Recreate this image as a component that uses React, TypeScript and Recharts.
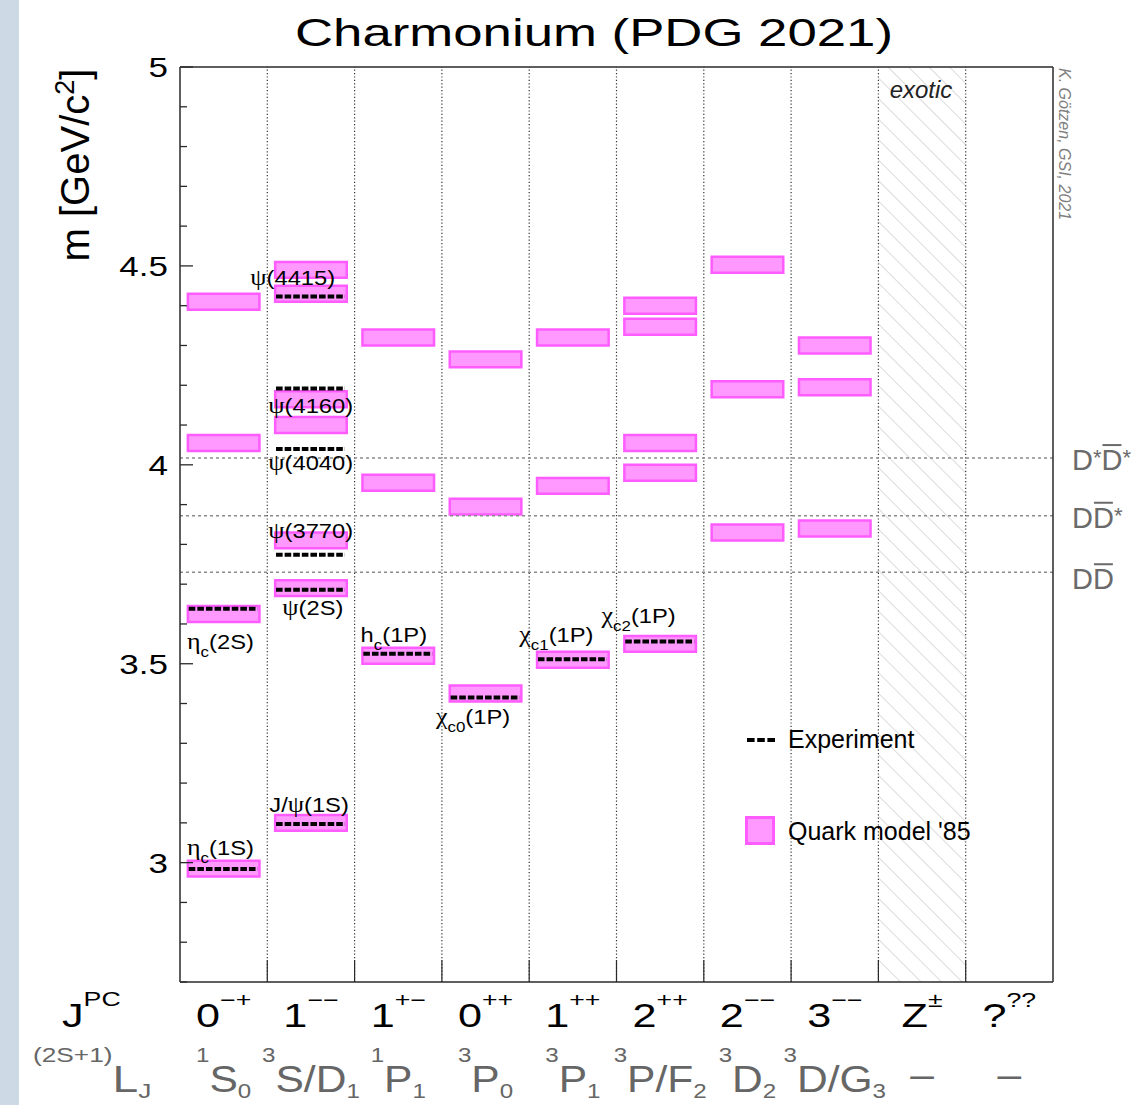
import React from 'react';
import { ComposedChart, XAxis, YAxis, ReferenceArea, ReferenceLine, ReferenceDot } from 'recharts';

const W = 1147;
const H = 1105;
const SANS = '"Liberation Sans", Arial, Helvetica, sans-serif';
const SERIF = '"Liberation Serif", "Times New Roman", serif';

// J^PC row and spectroscopic row, one entry per column
const JPC = [
  { n: '0', s: '−+' }, { n: '1', s: '−−' }, { n: '1', s: '+−' }, { n: '0', s: '++' }, { n: '1', s: '++' },
  { n: '2', s: '++' }, { n: '2', s: '−−' }, { n: '3', s: '−−' }, { n: 'Z', s: '±' }, { n: '?', s: '??' },
];
const TERMS = [
  { sup: '1', main: 'S', sub: '0' }, { sup: '3', main: 'S/D', sub: '1' }, { sup: '1', main: 'P', sub: '1' },
  { sup: '3', main: 'P', sub: '0' }, { sup: '3', main: 'P', sub: '1' }, { sup: '3', main: 'P/F', sub: '2' },
  { sup: '3', main: 'D', sub: '2' }, { sup: '3', main: 'D/G', sub: '3' }, { sup: '', main: '–', sub: '' },
  { sup: '', main: '–', sub: '' },
];

// Quark model '85 predictions per column [GeV]
const QM_0MP = [2.985, 3.625, 4.055, 4.41];
const QM_1MM = [3.1, 3.69, 3.81, 4.1, 4.165, 4.43, 4.49];
const QM_1PM = [3.52, 3.955, 4.32];
const QM_0PP = [3.425, 3.895, 4.265];
const QM_1PP = [3.51, 3.947, 4.32];
const QM_2PP = [3.55, 3.98, 4.055, 4.347, 4.4];
const QM_2MM = [3.83, 4.19, 4.503];
const QM_3MM = [3.84, 4.195, 4.3];
const QUARK_MODEL = [QM_0MP, QM_1MM, QM_1PM, QM_0PP, QM_1PP, QM_2PP, QM_2MM, QM_3MM];

// measured states
const EXPERIMENT = [
  { name: 'etac1S', col: 0, m: 2.984, greek: 'η', sub: 'c', tail: '(1S)' },
  { name: 'etac2S', col: 0, m: 3.638, greek: 'η', sub: 'c', tail: '(2S)' },
  { name: 'jpsi', col: 1, m: 3.097, pre: 'J/', greek: 'ψ', tail: '(1S)' },
  { name: 'psi2S', col: 1, m: 3.686, greek: 'ψ', tail: '(2S)' },
  { name: 'psi3770', col: 1, m: 3.774, greek: 'ψ', tail: '(3770)' },
  { name: 'psi4040', col: 1, m: 4.04, greek: 'ψ', tail: '(4040)' },
  { name: 'psi4160', col: 1, m: 4.192, greek: 'ψ', tail: '(4160)' },
  { name: 'psi4415', col: 1, m: 4.423, greek: 'ψ', tail: '(4415)' },
  { name: 'hc', col: 2, m: 3.525, pre: 'h', sub: 'c', tail: '(1P)' },
  { name: 'chic0', col: 3, m: 3.415, greek: 'χ', sub: 'c0', tail: '(1P)' },
  { name: 'chic1', col: 4, m: 3.511, greek: 'χ', sub: 'c1', tail: '(1P)' },
  { name: 'chic2', col: 5, m: 3.556, greek: 'χ', sub: 'c2', tail: '(1P)' },
];

// open-charm thresholds
const THRESHOLDS = [
  { name: 'DsDs', m: 4.017, star1: true, star2: true },
  { name: 'DDs', m: 3.872, star1: false, star2: true },
  { name: 'DD', m: 3.73, star1: false, star2: false },
];

const MASS_TICKS = [2.7, 2.8, 2.9, 3, 3.1, 3.2, 3.3, 3.4, 3.5, 3.6, 3.7, 3.8, 3.9, 4, 4.1, 4.2, 4.3, 4.4, 4.5, 4.6, 4.7, 4.8, 4.9, 5];
const COL_TICKS = [0, 0.5, 1, 1.5, 2, 2.5, 3, 3.5, 4, 4.5, 5, 5.5, 6, 6.5, 7, 7.5, 8, 8.5, 9, 9.5, 10];
const COL_EDGES = [1, 2, 3, 4, 5, 6, 7, 8, 9];

// label offsets in px: [from column left edge, from level to baseline]
const LABEL_PLACE: Record<string, [number, number]> = {
  etac1S: [7, -14], etac2S: [7, 40], jpsi: [2, -12], psi2S: [15, 25], psi3770: [1, -17],
  psi4040: [1, 21], psi4160: [1, 25], psi4415: [-17, -12], hc: [6, -12], chic0: [-6, 26],
  chic1: [-10, -17], chic2: [-15, -18],
};
const THRESH_DY: Record<string, number> = { DsDs: 12, DDs: 12, DD: 17 };

const PINK = '#ff99ff';
const PINK_EDGE = '#ff5cff';
const FRAME = '#2a2a2a';

function MassTick(props: any) {
  const { x, y, payload } = props;
  const v = payload.value as number;
  const major = Math.abs(v * 2 - Math.round(v * 2)) < 1e-6;
  return (
    <g>
      <line x1={x} x2={x + (major ? 13 : 7)} y1={y} y2={y} stroke={FRAME} strokeWidth={1.3} />
      {major && (
        <text transform={`translate(${x - 12},${y + 10}) scale(1.25,1)`} textAnchor="end" fontFamily={SANS} fontSize={28} fill="#000">
          {String(Number(v.toFixed(1)))}
        </text>
      )}
    </g>
  );
}

function ColumnTick(props: any) {
  const { x, y, payload } = props;
  const v = payload.value as number;
  if (Number.isInteger(v)) {
    if (v === 0 || v === 10) return null;
    return <line x1={x} x2={x} y1={y} y2={y - 22} stroke={FRAME} strokeWidth={1.2} />;
  }
  const i = Math.floor(v);
  const jpc = JPC[i];
  const term = TERMS[i];
  const dash = term.main === '–';
  return (
    <g>
      <text transform={`translate(${x},${y + 45}) scale(1.27,1)`} textAnchor="middle" fontFamily={SANS} fontSize={34} fill="#000">
        {jpc.n}
        <tspan dy={-20} fontSize={21}>{jpc.s}</tspan>
      </text>
      <text transform={`translate(${x},${y + 110}) scale(1.15,1)`} textAnchor="middle" fontFamily={SANS} fontSize={37} fill="#666">
        {term.sup && <tspan dy={-30} fontSize={21}>{term.sup}</tspan>}
        <tspan dy={term.sup ? 30 : dash ? -5 : 0}>{term.main}</tspan>
        {term.sub && <tspan dy={6} fontSize={21}>{term.sub}</tspan>}
      </text>
    </g>
  );
}

function StateLabel({ cx, cy, s }: any) {
  const [dx, dy] = LABEL_PLACE[s.name];
  return (
    <text transform={`translate(${cx + dx},${cy + dy}) scale(1.13,1)`} fontFamily={SANS} fontSize={21} fill="#000">
      {s.pre && <tspan>{s.pre}</tspan>}
      {s.greek && <tspan fontFamily={SERIF} fontSize={23}>{s.greek}</tspan>}
      {s.sub && <tspan dy={8} fontSize={15}>{s.sub}</tspan>}
      <tspan dy={s.sub ? -8 : 0}>{s.tail}</tspan>
    </text>
  );
}

function ThresholdLabel({ cx, cy, t }: any) {
  const fs = 29;
  const x0 = cx + 19;
  const base = cy + THRESH_DY[t.name];
  const dW = 0.722 * fs;
  const starW = 0.389 * 22;
  const secondX = x0 + dW + (t.star1 ? starW : 0);
  return (
    <g>
      <text x={x0} y={base} fontFamily={SANS} fontSize={fs} fill="#6a6a6a">
        D{t.star1 && <tspan dy={-5} fontSize={22}>*</tspan>}
        <tspan dy={t.star1 ? 5 : 0}>D</tspan>
        {t.star2 && <tspan dy={-5} fontSize={22}>*</tspan>}
      </text>
      <line x1={secondX + 1} x2={secondX + dW - 1} y1={base - 25} y2={base - 25} stroke="#6a6a6a" strokeWidth={2} />
    </g>
  );
}

export default function App() {
  return (
    <div style={{ position: 'absolute', left: 0, top: 0, width: W, height: H, background: '#fff', overflow: 'hidden' }}>
      <div style={{ position: 'absolute', left: 0, top: 0, width: 19, height: H, background: '#cdd9e4' }} />
      <svg style={{ position: 'absolute', left: 0, top: 0 }} width={W} height={H}>
        <defs>
          <pattern id="hatch" width={14.5} height={14.5} patternUnits="userSpaceOnUse" patternTransform="rotate(-45)">
            <line x1={0} y1={0} x2={0} y2={14.5} stroke="#c4c4c4" strokeWidth={1.2} />
          </pattern>
        </defs>
      </svg>
      <div style={{ position: 'absolute', left: 0, top: 0 }}>
        <ComposedChart width={W} height={H} margin={{ top: 67, right: 94, bottom: 0, left: 0 }}>
          <XAxis
            type="number"
            dataKey="x"
            domain={[0, 10]}
            ticks={COL_TICKS}
            interval={0}
            allowDataOverflow
            height={123}
            tickSize={0}
            tickMargin={0}
            tickLine={false}
            axisLine={{ stroke: FRAME, strokeWidth: 1.5 }}
            tick={<ColumnTick />}
          />
          <YAxis
            type="number"
            domain={[2.7, 5]}
            ticks={MASS_TICKS}
            interval={0}
            allowDataOverflow
            width={180}
            tickSize={0}
            tickMargin={0}
            tickLine={false}
            axisLine={{ stroke: FRAME, strokeWidth: 1.5 }}
            tick={<MassTick />}
          />

          {/* exotic column */}
          <ReferenceArea x1={8} x2={9} y1={2.7} y2={5} fill="url(#hatch)" fillOpacity={1} stroke="none" />

          {COL_EDGES.map((c) => (
            <ReferenceLine key={`edge-${c}`} x={c} stroke="#333" strokeWidth={1.2} strokeDasharray="1.2 2.2" />
          ))}

          {THRESHOLDS.map((t) => (
            <ReferenceLine key={`thr-${t.name}`} y={t.m} stroke="#8a8a8a" strokeWidth={1.5} strokeDasharray="3 3" />
          ))}

          <ReferenceLine y={5} stroke={FRAME} strokeWidth={1.5} />
          <ReferenceLine x={10} stroke={FRAME} strokeWidth={1.5} />

          {QUARK_MODEL.map((masses, c) =>
            masses.map((m, k) => (
              <ReferenceArea
                key={`qm-${c}-${k}`}
                x1={c + 0.09}
                x2={c + 0.91}
                y1={m - 0.02}
                y2={m + 0.02}
                fill={PINK}
                fillOpacity={1}
                stroke={PINK_EDGE}
                strokeWidth={2.5}
              />
            )),
          )}

          {EXPERIMENT.map((s) => (
            <ReferenceLine
              key={`exp-${s.name}`}
              segment={[{ x: s.col + 0.1, y: s.m }, { x: s.col + 0.89, y: s.m }]}
              stroke="#000"
              strokeWidth={4}
              strokeDasharray="6.6 2"
            />
          ))}

          {EXPERIMENT.map((s) => (
            <ReferenceDot
              key={`lbl-${s.name}`}
              x={s.col}
              y={s.m}
              r={3}
              shape={(p: any) => <StateLabel cx={p.cx} cy={p.cy} s={s} />}
            />
          ))}

          {THRESHOLDS.map((t) => (
            <ReferenceDot
              key={`tl-${t.name}`}
              x={10}
              y={t.m}
              r={3}
              shape={(p: any) => <ThresholdLabel cx={p.cx} cy={p.cy} t={t} />}
            />
          ))}
        </ComposedChart>
      </div>

      <svg style={{ position: 'absolute', left: 0, top: 0, pointerEvents: 'none' }} width={W} height={H}>
        <text x={594} y={46} textAnchor="middle" fontFamily={SANS} fontSize={39} textLength={598} lengthAdjust="spacingAndGlyphs" fill="#000">
          Charmonium (PDG 2021)
        </text>
        <text transform="translate(89,165) rotate(-90)" textAnchor="middle" fontFamily={SANS} fontSize={40} fill="#000">
          m [GeV/c<tspan dy={-15} fontSize={27}>2</tspan>
          <tspan dy={15}>]</tspan>
        </text>
        <text transform="translate(1059,68) rotate(90)" fontFamily={SANS} fontSize={16} fontStyle="italic" fill="#808080">
          K. Götzen, GSI, 2021
        </text>
        <text x={921} y={98} textAnchor="middle" fontFamily={SANS} fontSize={24} fontStyle="italic" fill="#222">
          exotic
        </text>

        {/* legend */}
        <line x1={747} x2={775} y1={740} y2={740} stroke="#000" strokeWidth={4} strokeDasharray="7.6 2.6" />
        <text x={788} y={748} fontFamily={SANS} fontSize={25} fill="#000">Experiment</text>
        <rect x={746.5} y={817.5} width={27} height={26} fill={PINK} stroke={PINK_EDGE} strokeWidth={3} />
        <text x={788} y={840} fontFamily={SANS} fontSize={25} fill="#000">Quark model &apos;85</text>

        {/* row headers */}
        <text transform="translate(62,1027) scale(1.27,1)" fontFamily={SANS} fontSize={34} fill="#000">
          J<tspan dy={-21} fontSize={21}>PC</tspan>
        </text>
        <text transform="translate(33,1092) scale(1.25,1)" fontFamily={SANS} fontSize={37} fill="#666">
          <tspan dy={-30} fontSize={21}>(2S+1)</tspan>
          <tspan dy={30}>L</tspan>
          <tspan dy={6} fontSize={21}>J</tspan>
        </text>
      </svg>
    </div>
  );
}
